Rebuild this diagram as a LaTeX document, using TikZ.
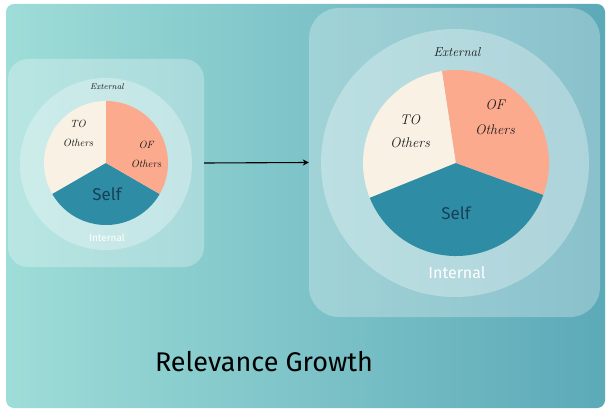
\documentclass[tikz,border=0pt]{standalone}
\usepackage{fontspec}
\setmainfont{Fira Sans}
\newfontfamily\handfont{Latin Modern Roman}
\usetikzlibrary{arrows.meta}
\definecolor{bgL}{HTML}{9EDDD8}
\definecolor{bgM}{HTML}{7FC8CC}
\definecolor{bgR}{HTML}{5CA9B8}
\definecolor{cream}{HTML}{F8F1E4}
\definecolor{salmon}{HTML}{FCAA8E}
\definecolor{tealpie}{HTML}{2E8DA4}
\definecolor{selftext}{HTML}{173F5A}
\definecolor{ink}{HTML}{1A1A1A}
\tikzset{
  panel/.style={fill=white, fill opacity=0.28, draw=none, inner sep=0pt},
  ring/.style={circle, fill=white, fill opacity=0.3, draw=none, inner sep=0pt},
  hand/.style={font=\handfont\itshape, text=ink, align=center, inner sep=0pt},
  plain/.style={text=selftext, inner sep=0pt},
  intl/.style={text=white, inner sep=0pt},
}
\begin{document}
\begin{tikzpicture}[x=1pt,y=-1pt]
\useasboundingbox (0,0) rectangle (610,414);
\fill[white] (0,0) rectangle (610,414);
\shade[rounded corners=8pt, left color=bgL, middle color=bgM, right color=bgR] (6,4) rectangle (605,408);
% panels
\node[panel, rounded corners=20pt, minimum width=196pt, minimum height=208pt] (small) at (106,163) {};
\node[panel, rounded corners=30pt, minimum width=291pt, minimum height=309pt] (big) at (454.5,162.5) {};
% rings
\node[ring, minimum size=172pt] (sring) at (106,164) {};
\node[ring, minimum size=268pt] (bring) at (455,163) {};
% small pie
\coordinate (sc) at (106,163);
\fill[cream] (sc) -- ++(-90:62) arc[start angle=-90, end angle=-210, radius=62] -- cycle;
\fill[tealpie] (sc) -- ++(-210:62) arc[start angle=-210, end angle=-330, radius=62] -- cycle;
\fill[salmon] (sc) -- ++(30:62) arc[start angle=30, end angle=-90, radius=62] -- cycle;
% big pie
\coordinate (bc) at (456,163);
\fill[cream] (bc) -- ++(-98.6:93) arc[start angle=-98.6, end angle=-202, radius=93] -- cycle;
\fill[tealpie] (bc) -- ++(-202:93) arc[start angle=-202, end angle=-340, radius=93] -- cycle;
\fill[salmon] (bc) -- ++(20:93) arc[start angle=20, end angle=-98.6, radius=93] -- cycle;
% small texts
\node[hand, font=\handfont\itshape\fontsize{8.5}{9}\selectfont] (sext) at (107,87) {External};
\node[hand, font=\handfont\itshape\fontsize{10.5}{19}\selectfont] (sto) at (78,133) {TO\\Others};
\node[hand, font=\handfont\itshape\fontsize{10.5}{19}\selectfont] (sof) at (146,154) {OF\\Others};
\node[plain, font=\fontsize{17}{18}\selectfont] (sself) at (107,194) {Self};
\node[intl, font=\fontsize{10}{11}\selectfont] (sint) at (107,238) {Internal};
% big texts
\node[hand, font=\handfont\itshape\fontsize{13}{14}\selectfont] (bext) at (457,52) {External};
\node[hand, font=\handfont\itshape\fontsize{14}{23}\selectfont] (bto) at (410,131) {TO\\Others};
\node[hand, font=\handfont\itshape\fontsize{14}{25}\selectfont] (bof) at (495,117) {OF\\Others};
\node[plain, font=\fontsize{17}{18}\selectfont] (bself) at (456,213) {Self};
\node[intl, font=\fontsize{16}{17}\selectfont] (bint) at (457,273) {Internal};
% title
\node[text=black, inner sep=0pt, font=\fontsize{27}{29}\selectfont] (title) at (264,362) {Relevance Growth};
% arrow
\draw[line width=1.1pt, -{Stealth[length=6pt,width=6pt]}] (small.east) -- (big.west);
\end{tikzpicture}
\end{document}
